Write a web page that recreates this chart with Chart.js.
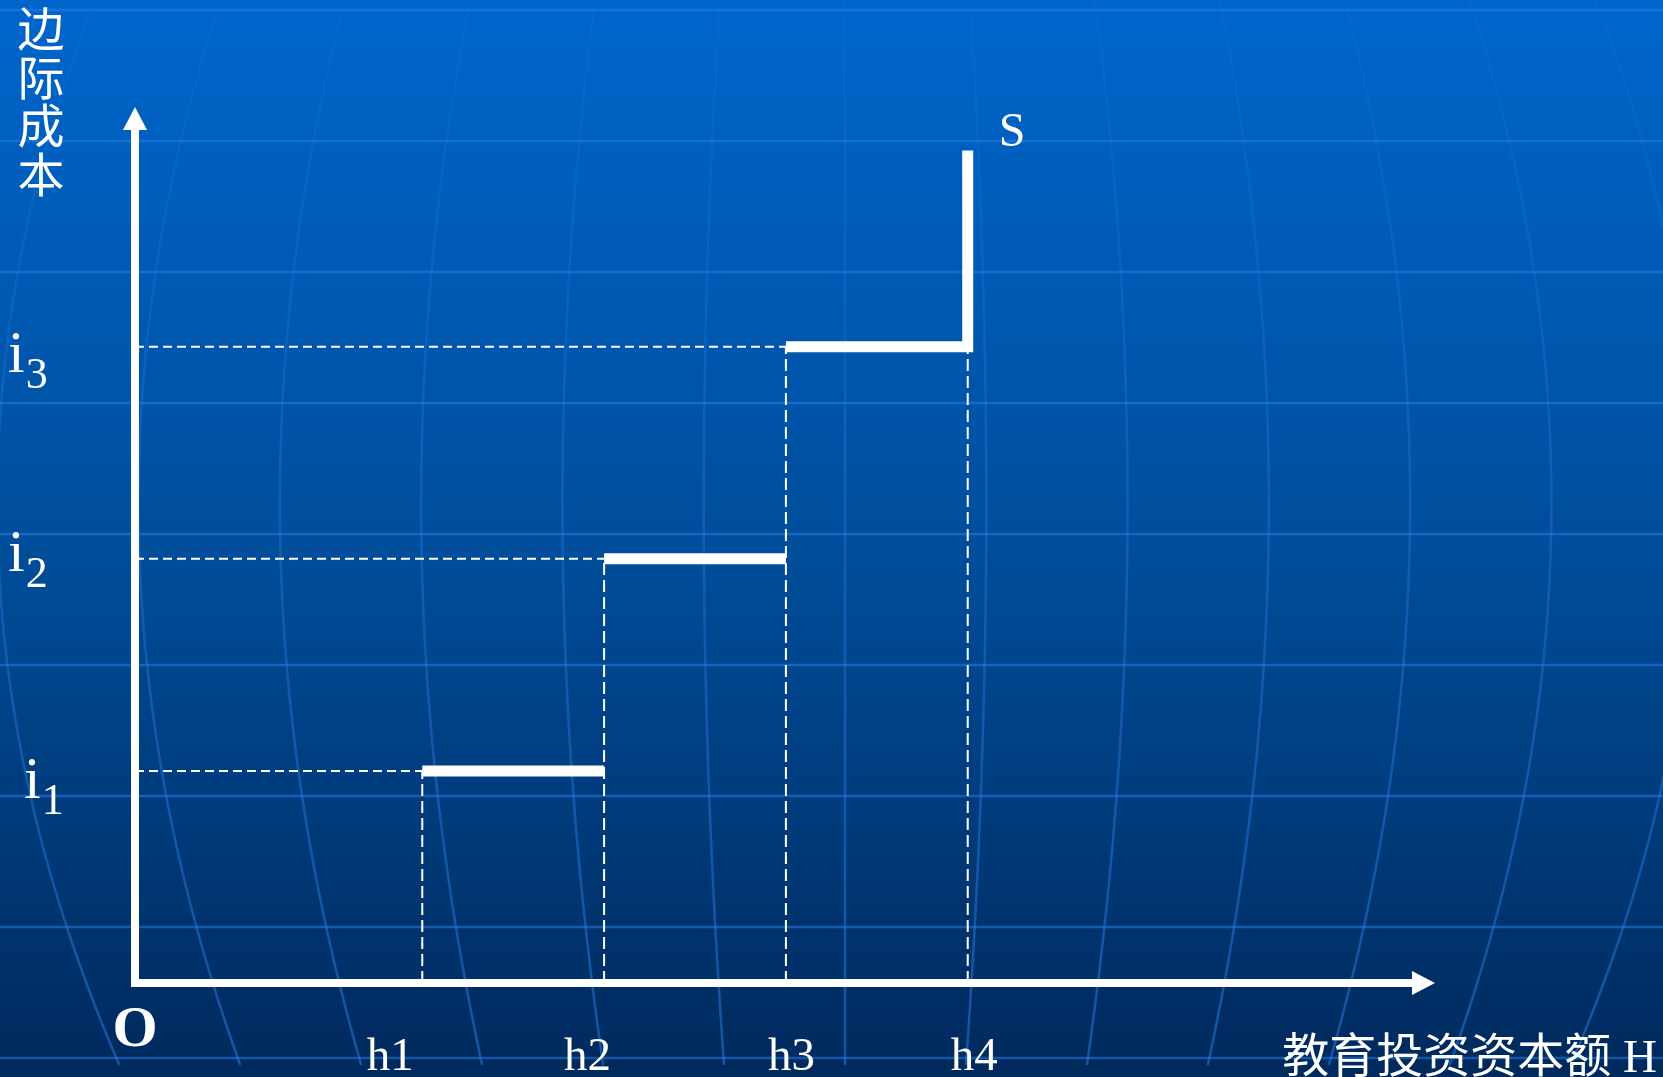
<!DOCTYPE html>
<html lang="zh">
<head>
<meta charset="utf-8">
<title>边际成本</title>
<script src="https://cdn.jsdelivr.net/npm/chart.js@4.4.1/dist/chart.umd.min.js"></script>
<style>
  html, body { margin: 0; padding: 0; width: 1663px; height: 1077px; overflow: hidden; background: #004a94; }
  #wrap { position: relative; width: 1663px; height: 1077px; }
</style>
</head>
<body>
<div id="wrap"><canvas id="chart"></canvas></div>
<script>
// ===============================
// Données
// ===============================
const hLabels = ["h1", "h2", "h3", "h4"];
const hValues = [1.58, 2.58, 3.58, 4.58];
const iSubs = ["1", "2", "3"];
const iValues = [1, 2, 3];
const sTop = 3.925;
const xMax = 7.15;
const yMax = 4.13;
const yTitle = "边际成本";
const xTitle = "教育投资资本额 H";

const SERIF = "'Liberation Serif', 'Times New Roman', 'Noto Sans CJK SC', serif";
const CJK = "'Liberation Serif', 'Noto Sans CJK SC', serif";

// ===============================
// Segments (null = coupure)
// ===============================
const guidesH = [];
iValues.forEach((v, k) => {
  guidesH.push({ x: 0, y: v }, { x: hValues[k], y: v }, { x: hValues[k], y: null });
});

const guidesV = [];
hValues.forEach((h, k) => {
  const top = iValues[Math.min(k, iValues.length - 1)];
  guidesV.push({ x: h, y: 0 }, { x: h, y: top }, { x: h, y: null });
});

const steps = [];
iValues.forEach((v, k) => {
  steps.push({ x: hValues[k], y: v }, { x: hValues[k + 1], y: v });
  if (k < iValues.length - 1) steps.push({ x: hValues[k + 1], y: null });
});
steps.push({ x: hValues[hValues.length - 1], y: sTop });

// ===============================
// Fond : dégradé + globe
// ===============================
const backgroundPlugin = {
  id: "background",
  beforeDraw(chart) {
    const { ctx, width, height } = chart;
    ctx.save();
    const g = ctx.createLinearGradient(0, 0, 0, height);
    g.addColorStop(0, "#0066cc");
    g.addColorStop(0.5, "#004e9c");
    g.addColorStop(1, "#00295c");
    ctx.fillStyle = g;
    ctx.fillRect(0, 0, width, height);

    ctx.lineWidth = 2.5;
    ctx.strokeStyle = "rgba(40,130,235,0.5)";
    for (let k = 0; k < 9; k++) {
      const y = 10 + 131 * k;
      ctx.beginPath();
      ctx.moveTo(0, y);
      ctx.lineTo(width, y);
      ctx.stroke();
    }
    const sg = ctx.createLinearGradient(0, 0, 0, height);
    sg.addColorStop(0, "rgba(40,130,235,0.08)");
    sg.addColorStop(0.4, "rgba(40,130,235,0.3)");
    sg.addColorStop(1, "rgba(40,130,235,0.5)");
    ctx.strokeStyle = sg;
    const cx = 845;
    for (let k = -8; k <= 8; k++) {
      ctx.beginPath();
      for (let y = 0; y <= height; y += 15) {
        const t = y / 1000;
        const f = 1 + 0.518 * t - 0.515 * t * t;
        const x = cx + 125 * k * f;
        if (y === 0) ctx.moveTo(x, y); else ctx.lineTo(x, y);
      }
      ctx.stroke();
    }
    ctx.restore();
  }
};

// ===============================
// Axes avec flèches
// ===============================
const axesPlugin = {
  id: "arrowAxes",
  afterDatasetsDraw(chart) {
    const { ctx, scales } = chart;
    const x0 = scales.x.getPixelForValue(0);
    const y0 = scales.y.getPixelForValue(0);
    const xEnd = scales.x.getPixelForValue(xMax);
    const yEnd = scales.y.getPixelForValue(yMax);
    ctx.save();
    ctx.strokeStyle = "#ffffff";
    ctx.fillStyle = "#ffffff";
    ctx.lineWidth = 8;
    ctx.lineCap = "butt";
    ctx.beginPath();
    ctx.moveTo(x0, y0 + 4);
    ctx.lineTo(x0, yEnd + 20);
    ctx.moveTo(x0, y0);
    ctx.lineTo(xEnd - 20, y0);
    ctx.stroke();

    ctx.beginPath();
    ctx.moveTo(x0, yEnd);
    ctx.lineTo(x0 - 12, yEnd + 23);
    ctx.lineTo(x0 + 12, yEnd + 23);
    ctx.closePath();
    ctx.fill();

    ctx.beginPath();
    ctx.moveTo(xEnd, y0);
    ctx.lineTo(xEnd - 23, y0 - 12);
    ctx.lineTo(xEnd - 23, y0 + 12);
    ctx.closePath();
    ctx.fill();
    ctx.restore();
  }
};

// ===============================
// Textes
// ===============================
const textPlugin = {
  id: "texts",
  afterDraw(chart) {
    const { ctx, scales } = chart;
    const x0 = scales.x.getPixelForValue(0);
    const y0 = scales.y.getPixelForValue(0);
    ctx.save();
    ctx.fillStyle = "#ffffff";

    // titre vertical
    ctx.font = "47px " + CJK;
    ctx.textAlign = "center";
    ctx.textBaseline = "middle";
    Array.from(yTitle).forEach((ch, k) => {
      ctx.fillText(ch, 41, 34 + 48.5 * k);
    });

    // i1, i2, i3
    ctx.textAlign = "left";
    ctx.textBaseline = "alphabetic";
    const iX = [24, 8, 8];
    const iDy = [27, 12, 25.5];
    iValues.forEach((v, k) => {
      const base = scales.y.getPixelForValue(v) + iDy[k];
      ctx.font = "60px " + SERIF;
      ctx.fillText("i", iX[k], base);
      const w = ctx.measureText("i").width;
      ctx.font = "44px " + SERIF;
      ctx.fillText(iSubs[k], iX[k] + w + 1, base + 16);
    });

    // h1..h4
    ctx.font = "47px " + SERIF;
    ctx.textAlign = "center";
    const hDx = [-32, -16.5, 5.5, 6.5];
    hValues.forEach((h, k) => {
      ctx.fillText(hLabels[k], scales.x.getPixelForValue(h) + hDx[k], y0 + 87);
    });

    // S
    ctx.textAlign = "left";
    ctx.font = "48px " + SERIF;
    ctx.fillText("S", scales.x.getPixelForValue(hValues[3]) + 31, scales.y.getPixelForValue(sTop) - 4);

    // origine
    ctx.textAlign = "center";
    ctx.font = "bold 58px " + SERIF;
    ctx.fillText("O", x0, y0 + 63);

    // titre horizontal
    ctx.textAlign = "right";
    ctx.font = "47px " + CJK;
    ctx.fillText(xTitle, 1657, y0 + 89);
    ctx.restore();
  }
};

// ===============================
// Graphique
// ===============================
const lineBase = {
  pointRadius: 0,
  pointHoverRadius: 0,
  tension: 0,
  fill: false,
  spanGaps: false,
  clip: false,
  borderColor: "#ffffff",
  borderCapStyle: "butt",
  borderJoinStyle: "miter"
};

new Chart(document.getElementById("chart"), {
  type: "line",
  data: {
    datasets: [
      { ...lineBase, label: "guidesH", data: guidesH, borderWidth: 2, borderDash: [9, 5] },
      { ...lineBase, label: "guidesV", data: guidesV, borderWidth: 2, borderDash: [12, 5] },
      { ...lineBase, label: "S", data: steps, borderWidth: 11 }
    ]
  },
  options: {
    responsive: true,
    maintainAspectRatio: false,
    animation: false,
    events: [],
    layout: { padding: { left: 135, right: 228, top: 107, bottom: 94 } },
    scales: {
      x: { type: "linear", min: 0, max: xMax, display: false },
      y: { type: "linear", min: 0, max: yMax, display: false }
    },
    plugins: {
      legend: { display: false },
      tooltip: { enabled: false }
    }
  },
  plugins: [backgroundPlugin, axesPlugin, textPlugin]
});
</script>
</body>
</html>
